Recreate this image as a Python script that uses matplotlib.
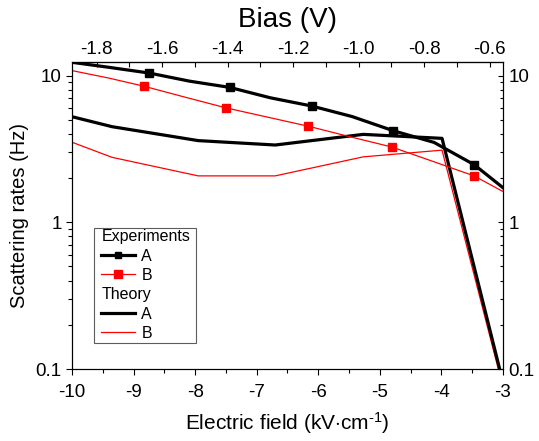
import matplotlib
matplotlib.use("Agg")
import matplotlib.pyplot as plt
from matplotlib.lines import Line2D
from matplotlib.offsetbox import HPacker, DrawingArea
from matplotlib.ticker import MultipleLocator, FixedLocator, FuncFormatter, NullFormatter, LogLocator, FormatStrFormatter

plt.rcParams['font.family'] = ['Liberation Sans', 'DejaVu Sans']
plt.rcParams['axes.unicode_minus'] = False
plt.rcParams['mathtext.fontset'] = 'custom'
plt.rcParams['mathtext.rm'] = 'Liberation Sans'
plt.rcParams['mathtext.it'] = 'Liberation Sans:italic'
plt.rcParams['mathtext.bf'] = 'Liberation Sans:bold'

# ---- data ----
expA_E = [-10.0, -9.42, -8.75, -8.09, -7.44, -6.78, -6.11, -5.45, -4.78, -4.12, -3.47, -3.0]
expA = [12.3, 11.4, 10.4, 9.15, 8.3, 7.05, 6.2, 5.25, 4.2, 3.5, 2.47, 1.72]
expB_E = [-10.0, -9.4, -8.83, -8.17, -7.50, -6.83, -6.16, -5.49, -4.81, -4.14, -3.47, -3.0]
expB = [10.8, 9.6, 8.45, 7.13, 6.02, 5.21, 4.51, 3.83, 3.26, 2.6, 2.07, 1.62]
th_E = [-10.0, -9.35, -7.95, -6.70, -5.27, -3.99, -3.0]
thA = [5.24, 4.48, 3.60, 3.36, 3.97, 3.73, 0.081]
thB = [3.51, 2.77, 2.07, 2.07, 2.79, 3.10, 0.075]
x_ticks = [-10, -9, -8, -7, -6, -5, -4, -3]
bias_ticks = [-1.8, -1.6, -1.4, -1.2, -1.0, -0.8, -0.6]
y_ticks = [0.1, 1, 10]
bias_slope, bias_offset = 0.1879, 0.004

fig = plt.figure(figsize=(5.39, 4.41), dpi=100)
ax = fig.add_axes([72/539, 1-369/441, 431/539, 307/441])

red = '#ff0000'
ax.plot(th_E, thB, color=red, lw=0.9, zorder=2)
ax.plot(th_E, thA, color='black', lw=2.3, zorder=3)
lB, = ax.plot(expB_E, expB, color=red, lw=0.9, marker='s', ms=6,
              markevery=[2, 4, 6, 8, 10], zorder=4)
lA, = ax.plot(expA_E, expA, color='black', lw=2.3, marker='s', ms=5.5,
              markevery=[2, 4, 6, 8, 10], zorder=5)
tA = Line2D([], [], color='black', lw=2.3)
tB = Line2D([], [], color=red, lw=0.9)

TL = 13.5
ax.set_xlim(-10, -3)
ax.set_yscale('log')
ax.set_ylim(0.1, 12.36)
ax.xaxis.set_major_locator(FixedLocator(x_ticks))
ax.xaxis.set_minor_locator(MultipleLocator(0.5))
ax.xaxis.set_major_formatter(FuncFormatter(lambda v, p: f'{v:g}'))
ax.yaxis.set_major_locator(FixedLocator(y_ticks))
ax.yaxis.set_minor_locator(LogLocator(base=10, subs=range(2, 10)))
ax.yaxis.set_major_formatter(FuncFormatter(lambda v, p: f'{v:g}'))
ax.yaxis.set_minor_formatter(NullFormatter())
ax.tick_params(axis='both', which='major', direction='out', length=4.5, width=0.8,
               labelsize=TL, pad=3, top=False, right=False)
ax.tick_params(axis='x', which='major', pad=6)
ax.tick_params(axis='both', which='minor', direction='out', length=2.6, width=0.8,
               top=False, right=False)
for s in ax.spines.values():
    s.set_linewidth(0.8)

ax.set_xlabel('Electric field (kV$\\cdot$cm$^{\u2010\\mathregular{1}}$)', fontsize=15, labelpad=7)
ax.set_ylabel('Scattering rates (Hz)', fontsize=14.5, labelpad=5)

# right axis
ax2 = ax.twinx()
ax2.set_yscale('log')
ax2.set_ylim(ax.get_ylim())
ax2.yaxis.set_major_locator(FixedLocator(y_ticks))
ax2.yaxis.set_minor_locator(LogLocator(base=10, subs=range(2, 10)))
ax2.yaxis.set_major_formatter(FuncFormatter(lambda v, p: f'{v:g}'))
ax2.yaxis.set_minor_formatter(NullFormatter())
ax2.tick_params(axis='y', which='major', direction='in', length=3.5, width=0.8, labelsize=TL, pad=4)
ax2.tick_params(axis='y', which='minor', direction='in', length=2.5, width=0.8)
for s in ax2.spines.values():
    s.set_linewidth(0.8)

# top axis (bias)
sec = ax.secondary_xaxis('top', functions=(lambda e: bias_slope*e + bias_offset,
                                            lambda b: (b - bias_offset)/bias_slope))
sec.xaxis.set_major_locator(FixedLocator(bias_ticks))
sec.xaxis.set_minor_locator(MultipleLocator(0.1))
sec.xaxis.set_major_formatter(FormatStrFormatter('%.1f'))
sec.tick_params(axis='x', which='major', direction='in', length=3.5, width=0.8, labelsize=TL, pad=3)
sec.tick_params(axis='x', which='minor', direction='in', length=3.5, width=0.8)
sec.spines['top'].set_linewidth(0.8)
sec.set_xlabel('Bias (V)', fontsize=20, labelpad=10)

# legend
blank1 = Line2D([], [], linestyle='none')
blank2 = Line2D([], [], linestyle='none')
headers = ['Experiments', 'Theory']
leg = ax.legend([blank1, lA, lB, blank2, tA, tB],
                ['Experiments', 'A', 'B', 'Theory', 'A', 'B'],
                loc='lower left', bbox_to_anchor=(0.051, 0.085), borderaxespad=0,
                fontsize=11.5, frameon=True, fancybox=False, edgecolor='#333333',
                handlelength=2.1, handletextpad=0.4, labelspacing=0.27,
                borderpad=0.12, markerscale=0.85)
leg.get_frame().set_linewidth(0.8)
leg.set_zorder(10)
for col in leg._legend_handle_box.get_children():
    for row in col.get_children():
        kids = row.get_children()
        if len(kids) == 2 and hasattr(kids[1], 'get_text') and kids[1].get_text() in headers:
            kids[0].width = 0
            row.sep = 0
try:
    hb = leg._legend_handle_box
    padded = HPacker(pad=0, sep=0, children=[DrawingArea(4, 0), hb, DrawingArea(3, 0)])
    kids = leg._legend_box._children
    idx = kids.index(hb)
    kids[idx] = padded
    padded.set_figure(fig)
except Exception:
    pass

fig.savefig('out.png', dpi=100)
